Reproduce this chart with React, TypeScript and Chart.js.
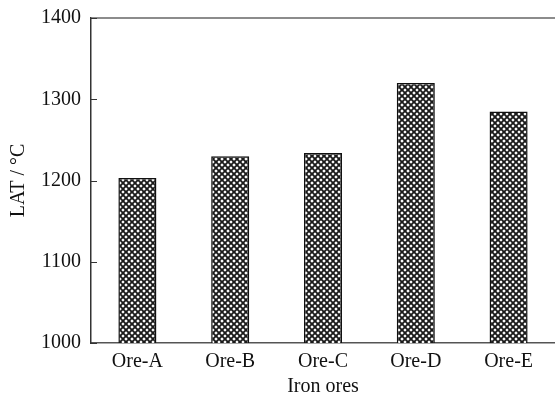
import React, { useEffect, useRef } from "react";
import { Chart, registerables } from "chart.js";

Chart.register(...registerables);

const categories = ["Ore-A", "Ore-B", "Ore-C", "Ore-D", "Ore-E"];
const latValues = [1203, 1230, 1234, 1320, 1285];
const yTicks = [1000, 1100, 1200, 1300, 1400];

function makePattern(): CanvasPattern | string {
  const size = 6;
  const c = document.createElement("canvas");
  c.width = size;
  c.height = size;
  const ctx = c.getContext("2d");
  if (!ctx) return "#888";
  ctx.fillStyle = "#ffffff";
  ctx.fillRect(0, 0, size, size);
  ctx.strokeStyle = "#1a1a1a";
  ctx.lineWidth = 1.9;
  ctx.beginPath();
  ctx.moveTo(-1, -1);
  ctx.lineTo(size + 1, size + 1);
  ctx.moveTo(-1, size + 1);
  ctx.lineTo(size + 1, -1);
  ctx.stroke();
  const p = ctx.createPattern(c, "repeat");
  return p || "#888";
}

const framePlugin = {
  id: "frame",
  afterDraw(chart: any) {
    const { ctx, chartArea } = chart;
    const y = chart.scales.y;
    ctx.save();
    ctx.strokeStyle = "#666";
    ctx.lineWidth = 1.5;
    ctx.beginPath();
    ctx.moveTo(chartArea.left, chartArea.top);
    ctx.lineTo(chartArea.right, chartArea.top);
    ctx.stroke();
    ctx.strokeStyle = "#333";
    ctx.lineWidth = 1;
    yTicks.forEach((v) => {
      const py = Math.round(y.getPixelForValue(v)) + 0.5;
      ctx.beginPath();
      ctx.moveTo(chartArea.left, py);
      ctx.lineTo(chartArea.left + 6, py);
      ctx.stroke();
    });
    ctx.restore();
  },
};

export default function App() {
  const ref = useRef<HTMLCanvasElement | null>(null);
  useEffect(() => {
    if (!ref.current) return;
    const font = { family: "'Liberation Serif', 'Times New Roman', serif", size: 20 };
    const chart = new Chart(ref.current, {
      type: "bar",
      data: {
        labels: categories,
        datasets: [
          {
            data: latValues,
            backgroundColor: makePattern() as any,
            borderColor: "#111",
            borderWidth: 1.5,
            categoryPercentage: 1,
            barPercentage: 0.41,
          },
        ],
      },
      options: {
        animation: false,
        responsive: false,
        maintainAspectRatio: false,
        layout: { padding: { top: 18, right: 0, left: 0, bottom: 0 } },
        plugins: { legend: { display: false }, tooltip: { enabled: false } },
        scales: {
          x: {
            grid: { display: false, drawTicks: false },
            border: { display: true, color: "#555", width: 1.5 },
            ticks: { color: "#111", font, padding: 7 },
            title: { display: true, text: "Iron ores", color: "#111", font, padding: { top: 0, bottom: 0 } },
            afterFit: (s: any) => {
              s.height = 56;
              s.paddingLeft = 0;
              s.paddingRight = 0;
            },
          },
          y: {
            min: 1000,
            max: 1400,
            afterBuildTicks: (s: any) => {
              s.ticks = yTicks.map((v) => ({ value: v }));
            },
            grid: { display: false, drawTicks: false },
            border: { display: true, color: "#333", width: 1.5 },
            ticks: { color: "#111", font, padding: 10, callback: (v: any) => String(v) },
            title: { display: true, text: "LAT / °C", color: "#111", font, padding: { top: 7, bottom: 0 } },
            afterFit: (s: any) => {
              s.width = 91;
              s.paddingTop = 0;
              s.paddingBottom = 0;
            },
          },
        },
      },
      plugins: [framePlugin],
    });
    return () => chart.destroy();
  }, []);
  return (
    <div style={{ position: "fixed", left: 0, top: 0, width: 555, height: 399, background: "#fff" }}>
      <canvas ref={ref} width={555} height={399} style={{ width: 555, height: 399, display: "block" }} />
    </div>
  );
}
